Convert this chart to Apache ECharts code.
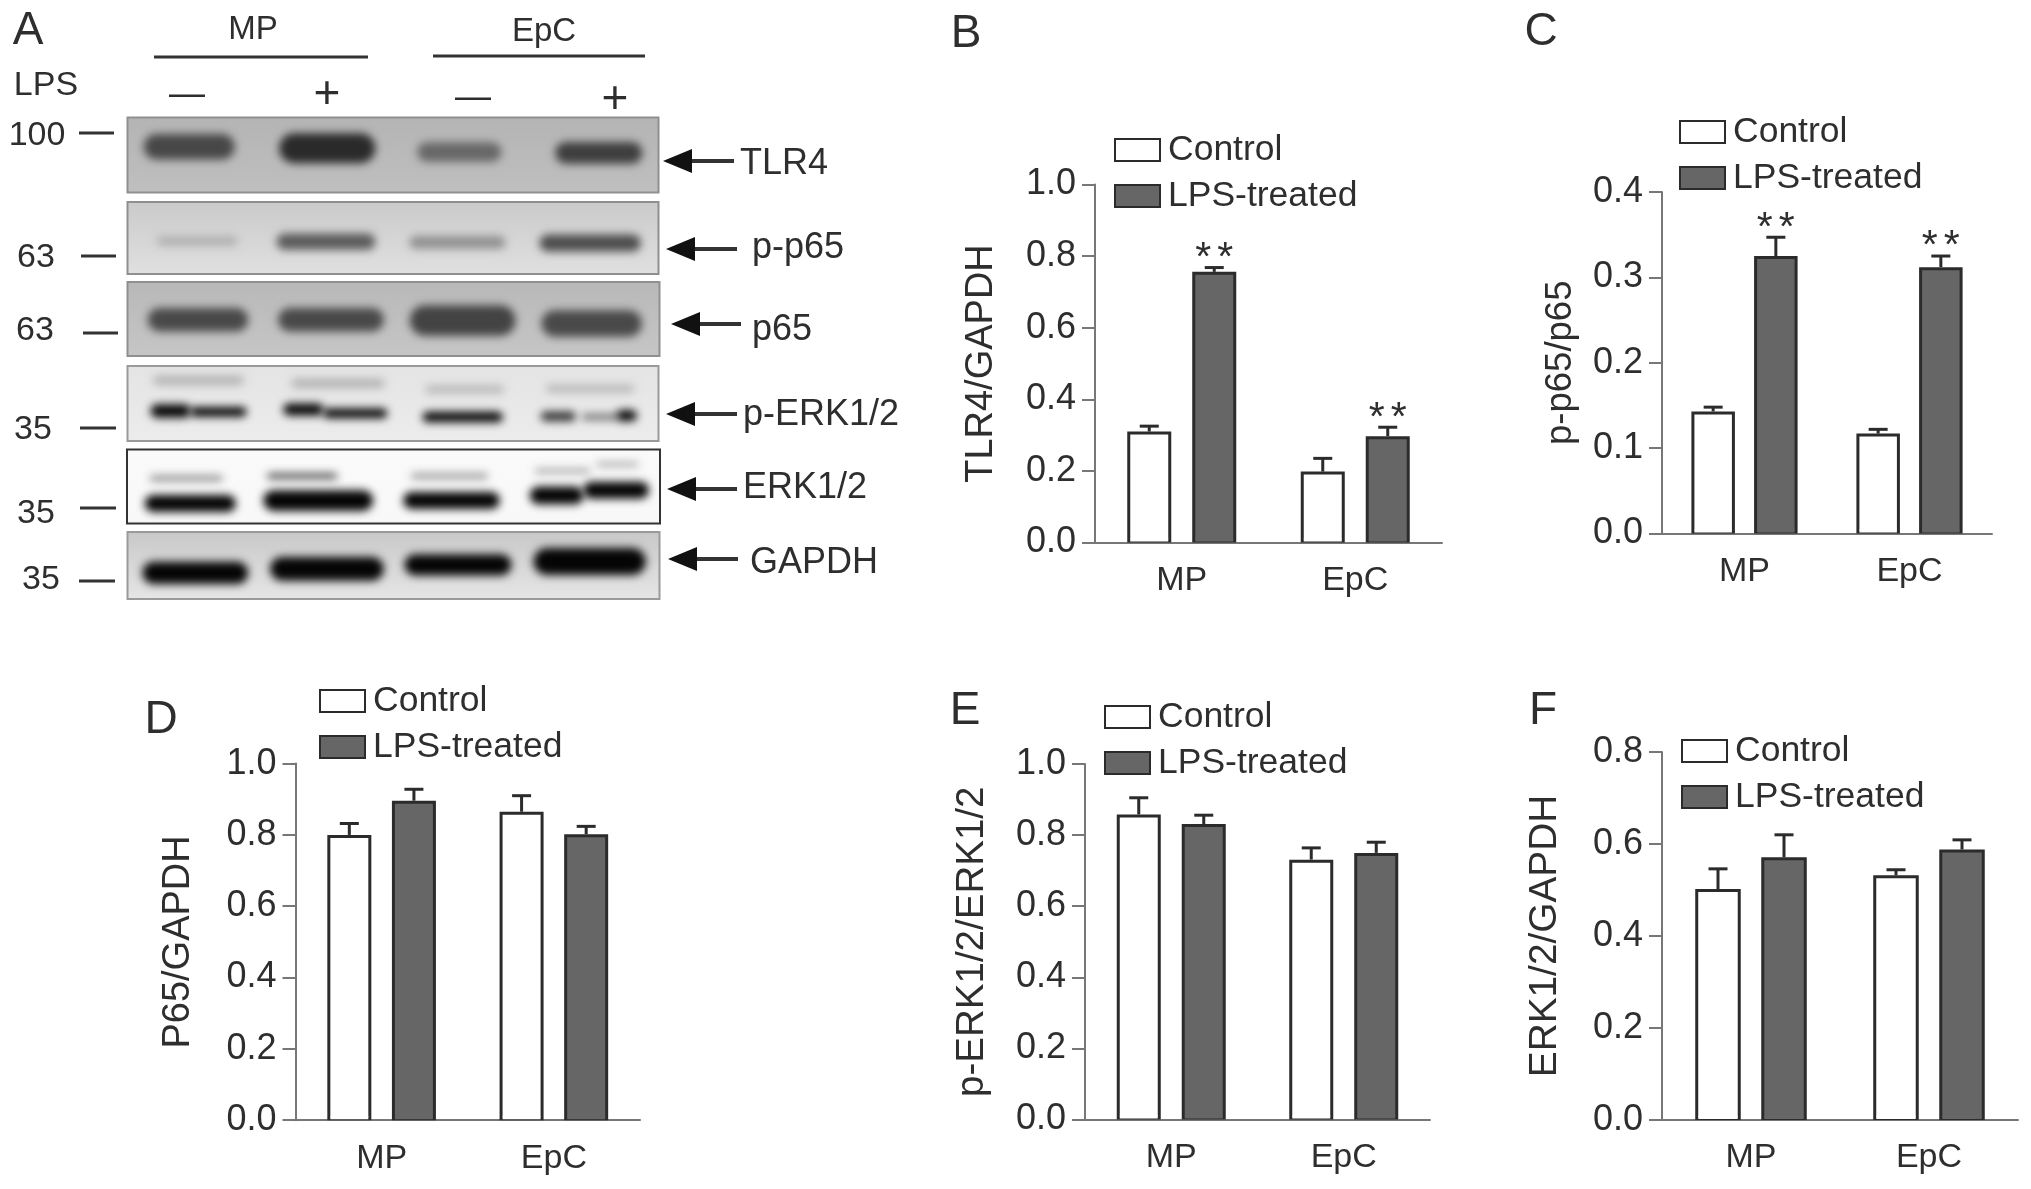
<!DOCTYPE html>
<html>
<head>
<meta charset="utf-8">
<style>
  html, body { margin: 0; padding: 0; background: #fff; }
  #main { width: 2031px; height: 1189px; }
</style>
<script src="https://cdn.jsdelivr.net/npm/echarts@6/dist/echarts.min.js"></script>
</head>
<body>
<div id="main"></div>
<script>
var groups = ["MP", "EpC"];
var tickFont = "Liberation Sans";
var inkColor = "#2e2e2e";

// bar heights and the top of each error bar
var tlr4Control = [0.31, 0.198];
var tlr4ControlErr = [0.325, 0.235];
var tlr4Lps = [0.756, 0.297];
var tlr4LpsErr = [0.768, 0.322];

var pp65Control = [0.143, 0.117];
var pp65ControlErr = [0.148, 0.122];
var pp65Lps = [0.325, 0.312];
var pp65LpsErr = [0.347, 0.325];

var p65Control = [0.8, 0.865];
var p65ControlErr = [0.832, 0.91];
var p65Lps = [0.896, 0.802];
var p65LpsErr = [0.928, 0.824];

var perkControl = [0.858, 0.731];
var perkControlErr = [0.905, 0.764];
var perkLps = [0.831, 0.75];
var perkLpsErr = [0.856, 0.78];

var erkControl = [0.502, 0.532];
var erkControlErr = [0.546, 0.544];
var erkLps = [0.571, 0.588];
var erkLpsErr = [0.62, 0.609];

// blot bands: lane start, lane end, migration (0 top of membrane, 1 bottom), thickness, density
var tlr4Bands = [
  [0.1, 0.83, 0.39, 0.38, 0.68], [1.12, 1.89, 0.41, 0.44, 0.82],
  [2.16, 2.84, 0.46, 0.3, 0.52], [3.2, 3.9, 0.47, 0.33, 0.72],
];
var pp65Bands = [
  [0.2, 0.85, 0.54, 0.17, 0.17], [1.1, 1.89, 0.55, 0.27, 0.58],
  [2.1, 2.87, 0.56, 0.22, 0.32], [3.08, 3.89, 0.57, 0.28, 0.65],
];
var p65Bands = [
  [0.13, 0.93, 0.51, 0.36, 0.67], [1.11, 1.95, 0.51, 0.36, 0.67],
  [2.1, 2.94, 0.52, 0.45, 0.7], [3.09, 3.89, 0.56, 0.4, 0.67],
];
var perkBands = [
  [0.17, 0.9, 0.19, 0.17, 0.14], [1.21, 1.96, 0.23, 0.17, 0.14],
  [2.22, 2.86, 0.31, 0.15, 0.12], [3.13, 3.84, 0.3, 0.15, 0.12],
  [0.15, 0.5, 0.6, 0.22, 1], [0.45, 0.92, 0.61, 0.17, 1],
  [1.15, 1.5, 0.58, 0.2, 1], [1.45, 1.98, 0.63, 0.17, 1],
  [2.2, 2.85, 0.68, 0.18, 1], [3.09, 3.4, 0.67, 0.17, 0.78],
  [3.4, 3.72, 0.68, 0.12, 0.5], [3.66, 3.86, 0.66, 0.19, 1],
];
var erkBands = [
  [0.15, 0.74, 0.39, 0.11, 0.4], [1.03, 1.6, 0.36, 0.12, 0.68],
  [2.11, 2.73, 0.36, 0.12, 0.3], [3.04, 3.5, 0.29, 0.1, 0.28],
  [3.5, 3.86, 0.2, 0.09, 0.32],
  [0.11, 0.84, 0.73, 0.27, 1], [1.0, 1.87, 0.69, 0.32, 1],
  [2.05, 2.82, 0.69, 0.27, 1], [3.0, 3.45, 0.62, 0.28, 1],
  [3.4, 3.94, 0.55, 0.27, 1],
];
var gapdhBands = [
  [0.09, 0.93, 0.61, 0.38, 1], [1.05, 1.95, 0.55, 0.4, 1],
  [2.06, 2.91, 0.49, 0.36, 1], [3.03, 3.92, 0.44, 0.45, 1],
];

var panels = [
  { name: "TLR4/GAPDH", left: 1095, top: 184.5, width: 347, height: 358, max: 1, interval: 0.2, barW: 44, step: 65, nameGap: 94, nameSize: 38,
    control: tlr4Control, controlErr: tlr4ControlErr, lps: tlr4Lps, lpsErr: tlr4LpsErr, stars: true, legend: [1114, 132] },
  { name: "p-p65/p65", left: 1662, top: 192, width: 330, height: 341.5, max: 0.4, interval: 0.1, barW: 43.5, step: 62.7, nameGap: 83, nameSize: 36.5,
    control: pp65Control, controlErr: pp65ControlErr, lps: pp65Lps, lpsErr: pp65LpsErr, stars: true, legend: [1679, 114] },
  { name: "P65/GAPDH", left: 295.5, top: 763.6, width: 344.5, height: 356.6, max: 1, interval: 0.2, barW: 44, step: 64.6, nameGap: 97.5, nameSize: 38,
    control: p65Control, controlErr: p65ControlErr, lps: p65Lps, lpsErr: p65LpsErr, stars: false, legend: [319, 683] },
  { name: "p-ERK1/2/ERK1/2", left: 1085, top: 764, width: 345, height: 355.5, max: 1, interval: 0.2, barW: 44, step: 65, nameGap: 93, nameSize: 38.5,
    control: perkControl, controlErr: perkControlErr, lps: perkLps, lpsErr: perkLpsErr, stars: false, legend: [1104, 699] },
  { name: "ERK1/2/GAPDH", left: 1662, top: 752, width: 356, height: 368, max: 0.8, interval: 0.2, barW: 45.5, step: 66, nameGap: 97, nameSize: 38.8,
    control: erkControl, controlErr: erkControlErr, lps: erkLps, lpsErr: erkLpsErr, stars: false, legend: [1681, 733] },
];

var blots = [
  { bands: tlr4Bands, left: 127.5, top: 117.5, width: 531, height: 75, bg: ["#b4b4b4", "#bfbfbf"], border: "#8f8f8f" },
  { bands: pp65Bands, left: 127.5, top: 202, width: 531, height: 72, bg: ["#cacaca", "#e0e0e0"], border: "#8f8f8f" },
  { bands: p65Bands, left: 127.5, top: 282, width: 532, height: 74, bg: ["#b8b8b8", "#c6c6c6"], border: "#8f8f8f" },
  { bands: perkBands, left: 127.5, top: 366, width: 531, height: 75, bg: ["#e4e4e4", "#ececec"], border: "#9a9a9a" },
  { bands: erkBands, left: 127, top: 449.5, width: 533, height: 74, bg: ["#fafafa", "#f8f8f8"], border: "#333" },
  { bands: gapdhBands, left: 127.5, top: 532, width: 532, height: 67, bg: ["#c8c8c8", "#e6e6e6"], border: "#9a9a9a" },
];

var grids = [], xAxes = [], yAxes = [], series = [], legends = [];

function errorSeries(i, bars, errs, dx, stars, barW, barFill) {
  return {
    type: "custom",
    xAxisIndex: i,
    yAxisIndex: i,
    z: 5,
    silent: true,
    encode: { x: 0, y: 2 },
    data: groups.map(function (g, k) { return [k, bars[k], errs[k]]; }),
    renderItem: function (params, api) {
      var low = api.coord([api.value(0), api.value(1)]);
      var high = api.coord([api.value(0), api.value(2)]);
      var zero = api.coord([api.value(0), 0]);
      var x = low[0] + dx;
      var lineStyle = { stroke: "#2b2b2b", lineWidth: 3, fill: null };
      var children = [
        { type: "line", shape: { x1: x, y1: low[1], x2: x, y2: high[1] }, style: lineStyle },
        { type: "line", shape: { x1: x - 9.5, y1: high[1], x2: x + 9.5, y2: high[1] }, style: lineStyle },
        // the bars stand on the axis with no bottom outline
        {
          type: "rect",
          shape: { x: x - barW / 2 + 3, y: zero[1] - 4, width: barW - 6, height: 3 },
          style: { fill: barFill },
        },
      ];
      if (stars) {
        [-11, 11].forEach(function (off) {
          children.push({
            type: "text",
            x: x + off,
            y: high[1] - 9,
            style: { text: "*", fontSize: 41, fontFamily: tickFont, fill: inkColor, align: "center", verticalAlign: "middle" },
          });
        });
      }
      return { type: "group", children: children };
    },
  };
}

panels.forEach(function (p, i) {
  grids.push({ left: p.left, top: p.top, width: p.width, height: p.height });
  xAxes.push({
    type: "category",
    gridIndex: i,
    data: groups,
    axisLine: { lineStyle: { color: "#777", width: 2 } },
    axisTick: { alignWithLabel: true, length: 13, lineStyle: { color: "#777", width: 2 } },
    axisLabel: { color: inkColor, fontSize: 34, fontFamily: tickFont, margin: 21 },
  });
  yAxes.push({
    type: "value",
    gridIndex: i,
    min: 0,
    max: p.max,
    interval: p.interval,
    name: p.name,
    nameLocation: "middle",
    nameGap: p.nameGap,
    nameTextStyle: { color: inkColor, fontSize: p.nameSize, fontFamily: tickFont },
    splitLine: { show: false },
    axisLine: { show: true, lineStyle: { color: "#777", width: 2 } },
    axisTick: { show: true, length: 13, lineStyle: { color: "#777", width: 2 } },
    axisLabel: {
      color: inkColor,
      fontSize: 36,
      fontFamily: tickFont,
      margin: 19,
      padding: [8, 0, 0, 0],
      formatter: function (v) { return v.toFixed(1); },
    },
  });
  var gap = ((p.step - p.barW) / p.barW * 100).toFixed(1) + "%";
  series.push({
    name: "Control",
    type: "bar",
    xAxisIndex: i,
    yAxisIndex: i,
    barWidth: p.barW,
    barGap: gap,
    data: p.control,
    itemStyle: { color: "#fff", borderColor: "#2b2b2b", borderWidth: 3 },
  });
  series.push({
    name: "LPS-treated",
    type: "bar",
    xAxisIndex: i,
    yAxisIndex: i,
    barWidth: p.barW,
    barGap: gap,
    data: p.lps,
    itemStyle: { color: "#666", borderColor: "#2b2b2b", borderWidth: 3 },
  });
  series.push(errorSeries(i, p.control, p.controlErr, -p.step / 2, false, p.barW, "#fff"));
  series.push(errorSeries(i, p.lps, p.lpsErr, p.step / 2, p.stars, p.barW, "#666"));
  legends.push({
    left: p.legend[0],
    top: p.legend[1],
    padding: 0,
    orient: "vertical",
    selectedMode: false,
    icon: "rect",
    itemWidth: 45,
    itemHeight: 22,
    itemGap: 10,
    data: ["Control", "LPS-treated"],
    textStyle: { color: inkColor, fontSize: 35.5, fontFamily: tickFont, lineHeight: 34, padding: [0, 0, 0, 3] },
  });
});

function bandSeries(i, bands) {
  return {
    type: "custom",
    xAxisIndex: i,
    yAxisIndex: i,
    silent: true,
    encode: { x: [0, 1], y: 2 },
    data: bands,
    renderItem: function (params, api) {
      var a = api.coord([api.value(0), api.value(2)]);
      var b = api.coord([api.value(1), api.value(2)]);
      var h = api.size([0, api.value(3)])[1];
      var grey = Math.round(210 - api.value(4) * 205);
      var fill = "rgb(" + grey + "," + grey + "," + grey + ")";
      // only the blurred shadow shows: the shape itself sits off the canvas
      var away = 4000;
      return {
        type: "rect",
        shape: {
          x: a[0] + 3 - away,
          y: a[1] - h / 2 + 1.5,
          width: b[0] - a[0] - 6,
          height: Math.max(h - 3, 3),
          r: Math.max(h / 2 - 1.5, 1),
        },
        style: { fill: fill, shadowBlur: 8, shadowColor: fill, shadowOffsetX: away },
      };
    },
  };
}

blots.forEach(function (b) {
  var i = grids.length;
  grids.push({
    show: true,
    left: b.left,
    top: b.top,
    width: b.width,
    height: b.height,
    backgroundColor: {
      type: "linear",
      x: 0,
      y: 0,
      x2: 0,
      y2: 1,
      colorStops: [{ offset: 0, color: b.bg[0] }, { offset: 1, color: b.bg[1] }],
    },
    borderColor: b.border,
    borderWidth: 2,
  });
  xAxes.push({ type: "value", gridIndex: i, min: 0, max: 4, show: false });
  yAxes.push({ type: "value", gridIndex: i, min: 0, max: 1, inverse: true, show: false });
  series.push(bandSeries(i, b.bands));
});

// panel A labels, panel letters and arrows
function label(text, x, y, size, align) {
  return {
    type: "text",
    x: x,
    y: y,
    z: 10,
    style: {
      text: text,
      fontSize: size,
      fontFamily: tickFont,
      fill: inkColor,
      align: align || "center",
      verticalAlign: "middle",
    },
  };
}

function rule(x1, x2, y, width) {
  return {
    type: "line",
    z: 10,
    shape: { x1: x1, y1: y, x2: x2, y2: y },
    style: { stroke: "#333", lineWidth: width },
  };
}

function arrow(tip, end, y) {
  return [
    rule(tip + 20, end, y, 4),
    {
      type: "polygon",
      z: 10,
      shape: { points: [[tip, y], [tip + 29, y - 12], [tip + 29, y + 12]] },
      style: { fill: "#111" },
    },
  ];
}

var graphics = [
  label("A", 28, 31, 46), label("B", 966, 34, 46), label("C", 1541, 32, 46),
  label("D", 161, 720, 46), label("E", 965, 711, 46), label("F", 1543, 711, 46),
  label("MP", 253, 30, 33), label("EpC", 544, 32, 33), label("LPS", 46, 86, 34),
  rule(154, 368, 57, 3), rule(433, 645, 56, 3),
  label("\u2014", 187, 95, 36), label("+", 327, 95, 46),
  label("\u2014", 473, 98, 36), label("+", 615, 100, 46),
  label("100", 37, 136, 34), rule(79, 114, 133, 3),
  label("63", 36, 258, 34), rule(81, 116, 256, 3),
  label("63", 35, 331, 34), rule(83, 118, 333, 3),
  label("35", 33, 430, 34), rule(80, 116, 428, 3),
  label("35", 36, 514, 34), rule(80, 116, 508, 3),
  label("35", 41, 580, 34), rule(79, 115, 581, 3),
  label("TLR4", 740, 164, 36, "left"),
  label("p-p65", 752, 248, 36, "left"),
  label("p65", 752, 330, 36, "left"),
  label("p-ERK1/2", 743, 415, 36, "left"),
  label("ERK1/2", 743, 488, 36, "left"),
  label("GAPDH", 750, 563, 36, "left"),
].concat(
  arrow(663, 734, 161), arrow(666, 737, 249), arrow(671, 741, 324),
  arrow(666, 737, 414), arrow(667, 737, 489), arrow(668, 738, 559)
);

var chart = echarts.init(document.getElementById("main"), null, { renderer: "canvas" });
chart.setOption({
  animation: false,
  backgroundColor: "#fff",
  grid: grids,
  xAxis: xAxes,
  yAxis: yAxes,
  legend: legends,
  series: series,
  graphic: { elements: graphics },
});
</script>
</body>
</html>
